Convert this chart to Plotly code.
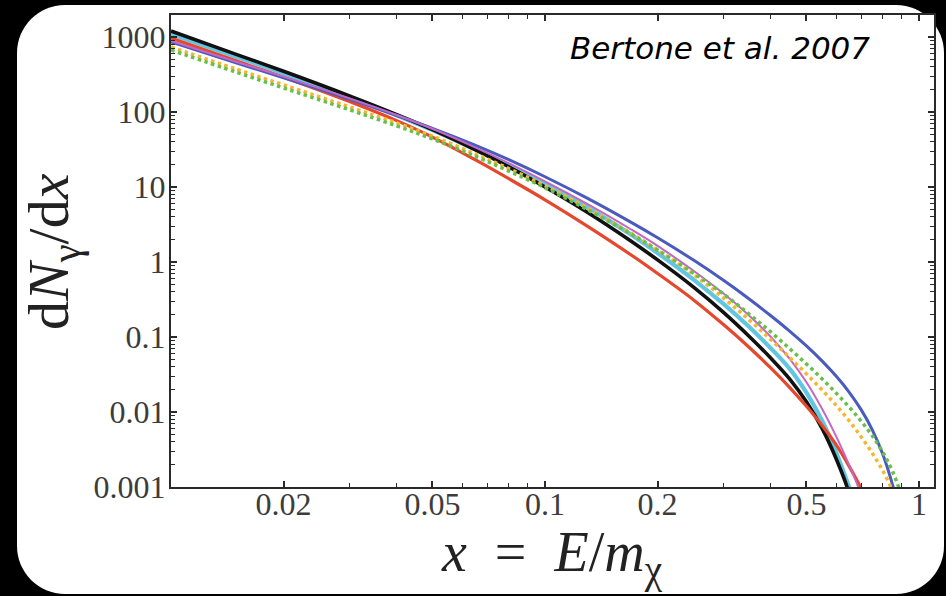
import plotly.graph_objects as go

# Gamma-ray spectra dN/dx versus x = E/m_chi for several annihilation channels
x_grid = [0.01, 0.015, 0.02, 0.03, 0.04, 0.05, 0.065, 0.08, 0.1, 0.13, 0.17, 0.2, 0.25,
          0.3, 0.35, 0.4, 0.45, 0.5, 0.55, 0.6, 0.65, 0.7, 0.75, 0.8, 0.85, 0.9]

x_black = x_grid[:21] + [0.66]
y_black = [1202, 582, 349, 164, 92.9, 58.1, 31.5, 18.6, 10.0, 4.57, 1.89, 1.066, 0.459,
           0.213, 0.1041, 0.0533, 0.0279, 0.01367, 0.0061, 0.0024, 0.00083, 0.0006]

x_cyan = x_grid[:21] + [0.67]
y_cyan = [1096, 541, 329, 158, 90.6, 57.4, 31.7, 19.4, 11.1, 5.35, 2.30, 1.318, 0.579,
          0.276, 0.1387, 0.072, 0.0382, 0.01813, 0.00775, 0.00292, 0.00101, 0.0007]

x_red = x_grid[:23]
y_red = [970, 479, 291, 138, 77.3, 46.3, 23.1, 12.9, 6.75, 2.99, 1.24, 0.702, 0.31,
         0.1465, 0.0742, 0.0393, 0.0215, 0.0119, 0.00666, 0.00367, 0.0019, 0.000967, 0.000503]

x_blue = x_grid[:26]
y_blue = [858, 449, 286, 149, 90.4, 60.6, 36.2, 23.1, 13.7, 7.04, 3.37, 2.10, 1.052,
          0.57, 0.3265, 0.195, 0.1206, 0.0759, 0.048, 0.0301, 0.01846, 0.01075, 0.00579,
          0.00274, 0.00106, 0.000335]

x_magenta = x_grid[:22] + [0.72]
y_magenta = [885, 463, 296, 152, 91.8, 59.7, 33.8, 20.8, 11.9, 5.90, 2.71, 1.64, 0.758,
             0.379, 0.1966, 0.1024, 0.0519, 0.0249, 0.0111, 0.00476, 0.00197, 0.0008, 0.0005]

x_orange = x_grid[:25] + [0.87]
y_orange = [736, 370, 230, 117, 71.8, 47.7, 27.7, 17.6, 10.4, 5.23, 2.41, 1.44, 0.676,
            0.331, 0.172, 0.094, 0.0539, 0.0322, 0.01976, 0.01233, 0.00766, 0.00468,
            0.00282, 0.00165, 0.00089, 0.0007]

x_green = x_grid[:26]
y_green = [671, 337, 209, 107, 65.5, 43.7, 25.8, 16.3, 9.76, 4.97, 2.35, 1.444, 0.707,
           0.374, 0.2053, 0.1184, 0.0705, 0.0437, 0.0278, 0.01794, 0.01166, 0.00757,
           0.00481, 0.00291, 0.0016, 0.00075]

x_ticks = [0.02, 0.05, 0.1, 0.2, 0.5, 1]
x_ticktext = ["0.02", "0.05", "0.1", "0.2", "0.5", "1"]
x_minor = [0.03, 0.04, 0.06, 0.07, 0.08, 0.09, 0.3, 0.4, 0.6, 0.7, 0.8, 0.9]
y_ticks = [0.001, 0.01, 0.1, 1, 10, 100, 1000]
y_ticktext = ["0.001", "0.01", "0.1", "1", "10", "100", "1000"]
y_minor = [m * 10.0 ** e for e in range(-3, 4) for m in range(2, 10)]

series = [
    (x_cyan, y_cyan, "#62c6e2", 4.2, "solid"),
    (x_black, y_black, "#111111", 3.6, "solid"),
    (x_red, y_red, "#e5482c", 3.2, "solid"),
    (x_blue, y_blue, "#4a5bbd", 3.0, "solid"),
    (x_magenta, y_magenta, "#c466c4", 2.0, "solid"),
    (x_orange, y_orange, "#f5b731", 3.5, "dot"),
    (x_green, y_green, "#67c04a", 3.5, "dot"),
]

W, H = 946, 596
L, R, T, B = 171, 934, 15, 487


def px(xp):
    return (xp - L) / (R - L)


def py(yp):
    return (B - yp) / (B - T)


fig = go.Figure()
for xs, ys, color, width, dash in series:
    fig.add_trace(go.Scatter(
        x=xs, y=ys, mode="lines",
        line=dict(color=color, width=width, dash=dash, shape="spline", smoothing=1.0),
        showlegend=False, hoverinfo="skip",
    ))

axis_font = dict(family="Liberation Serif", size=32, color="#3c3c3c")
common = dict(
    type="log", showgrid=False, zeroline=False,
    showline=True, linecolor="#2a2a2a", linewidth=2, mirror="ticks",
    ticks="inside", ticklen=6, tickwidth=1.5, tickcolor="#2a2a2a",
    tickfont=axis_font, tickmode="array",
)

fig.update_xaxes(
    range=[-2, 0.04], tickvals=x_ticks, ticktext=x_ticktext,
    minor=dict(tickvals=x_minor, ticks="inside", ticklen=4, tickwidth=1.2, tickcolor="#2a2a2a"),
    ticklabelstandoff=-12, **common,
)
fig.update_yaxes(
    range=[-3, 3.293], tickvals=y_ticks, ticktext=y_ticktext,
    minor=dict(tickvals=y_minor, ticks="inside", ticklen=4, tickwidth=1.2, tickcolor="#2a2a2a"),
    ticklabelstandoff=-3, **common,
)

# rounded white panel behind the plot
x0, x1, y0, y1, r = 17, 944, 5, 594, 48
k = 0.552 * r
panel = (
    f"M {px(x0 + r)},{py(y0)} L {px(x1 - r)},{py(y0)} "
    f"C {px(x1 - r + k)},{py(y0)} {px(x1)},{py(y0 + r - k)} {px(x1)},{py(y0 + r)} "
    f"L {px(x1)},{py(y1 - r)} "
    f"C {px(x1)},{py(y1 - r + k)} {px(x1 - r + k)},{py(y1)} {px(x1 - r)},{py(y1)} "
    f"L {px(x0 + r)},{py(y1)} "
    f"C {px(x0 + r - k)},{py(y1)} {px(x0)},{py(y1 - r + k)} {px(x0)},{py(y1 - r)} "
    f"L {px(x0)},{py(y0 + r)} "
    f"C {px(x0)},{py(y0 + r - k)} {px(x0 + r - k)},{py(y0)} {px(x0 + r)},{py(y0)} Z"
)
fig.add_shape(type="path", path=panel, xref="paper", yref="paper",
              fillcolor="white", line=dict(width=0), layer="below")

fig.add_annotation(
    text="d<i>N</i><sub>γ</sub>/d<i>x</i>", textangle=-90,
    x=px(52), y=py(252), xref="paper", yref="paper",
    xanchor="center", yanchor="middle", showarrow=False,
    font=dict(family="Liberation Serif", size=58, color="#222222"),
)
fig.add_annotation(
    text="<i>x</i>\u2002=\u2002<i>E</i>/<i>m</i><sub>χ</sub>",
    x=px(552), y=py(556), xref="paper", yref="paper",
    xanchor="center", yanchor="middle", showarrow=False,
    font=dict(family="Liberation Serif", size=56, color="#222222"),
)
fig.add_annotation(
    text="<i>Bertone et al. 2007</i>",
    x=px(720), y=py(48), xref="paper", yref="paper",
    xanchor="center", yanchor="middle", showarrow=False,
    font=dict(family="DejaVu Sans", size=31, color="#000000"),
)

fig.update_layout(
    width=W, height=H,
    margin=dict(l=L, r=W - R, t=T, b=H - B, autoexpand=False),
    paper_bgcolor="black", plot_bgcolor="white",
)

fig.write_html("out.html")
